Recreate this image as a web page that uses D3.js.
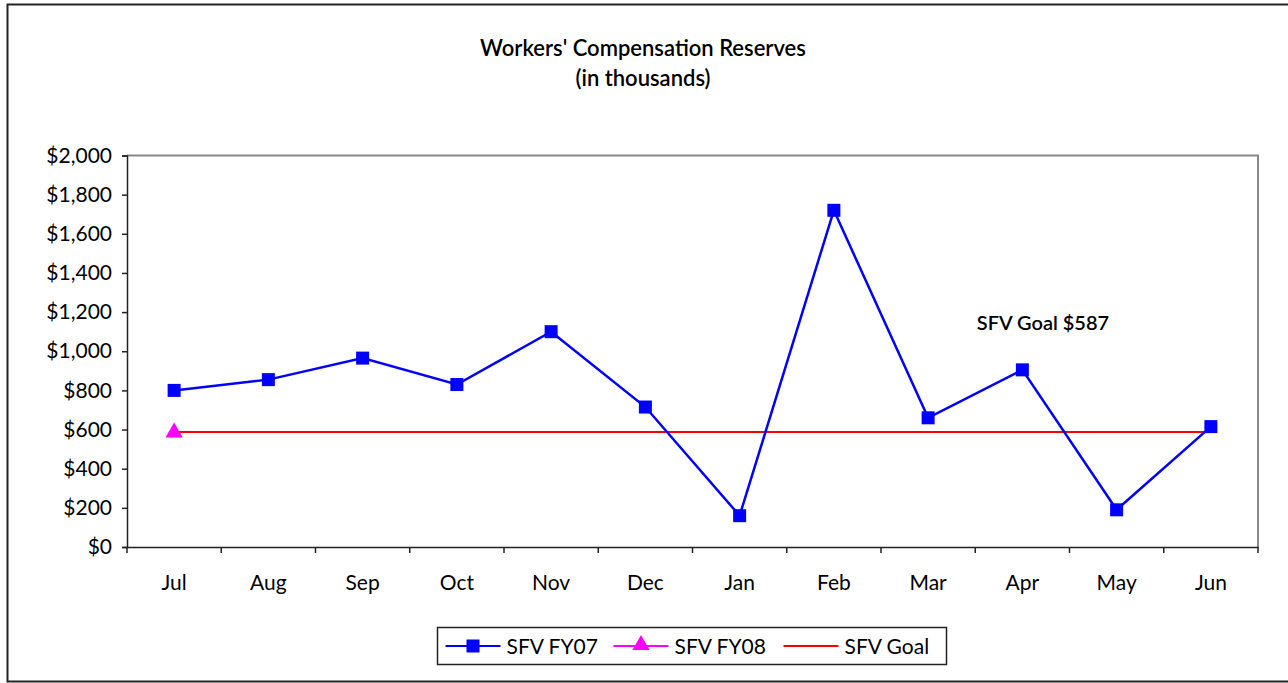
<!DOCTYPE html>
<html>
<head>
<meta charset="utf-8">
<script src="https://d3js.org/d3.v7.min.js"></script>
<style>
  body { margin: 0; background: #fff; }
  svg { display: block; font-family: Lato, "Open Sans", sans-serif; }
  .axis text { fill: #000; font-size: 21px; font-family: Lato, "Open Sans", sans-serif; }
  .axis path, .axis line { stroke: #222; stroke-width: 1.5; }
</style>
</head>
<body>
<svg id="chart"></svg>
<script>
  var months = ["Jul", "Aug", "Sep", "Oct", "Nov", "Dec", "Jan", "Feb", "Mar", "Apr", "May", "Jun"];
  var fy07 = [800, 855, 965, 830, 1100, 715, 160, 1720, 660, 905, 190, 615];
  var fy08 = [580];
  var goal = 587;
  var yTicks = [0, 200, 400, 600, 800, 1000, 1200, 1400, 1600, 1800, 2000];

  var W = 1288, H = 683;
  var margin = {top: 155.5, right: 30, bottom: 136, left: 127};
  var width = 1258 - margin.left,
      height = 547 - margin.top;

  var svg = d3.select("#chart").attr("width", W).attr("height", H);

  // outer frame
  svg.append("rect")
    .attr("x", 7.5).attr("y", 4.5)
    .attr("width", 1300).attr("height", 677)
    .attr("fill", "none").attr("stroke", "#222").attr("stroke-width", 2);

  var g = svg.append("g").attr("transform", "translate(" + margin.left + "," + margin.top + ")");

  var x = d3.scaleBand().domain(months).range([0, width]);
  var y = d3.scaleLinear().domain([0, 2000]).range([height, 0]);

  // plot frame (top and right in grey)
  g.append("path")
    .attr("d", "M0,0H" + width + "V" + height)
    .attr("fill", "none").attr("stroke", "#888").attr("stroke-width", 2);

  g.append("g").attr("class", "axis")
    .call(d3.axisLeft(y).tickValues(yTicks).tickSize(5).tickPadding(10)
      .tickFormat(function(d) { return "$" + d3.format(",")(d); }))
    .attr("font-family", null).attr("font-size", null);

  var xAxis = g.append("g").attr("class", "axis")
    .attr("transform", "translate(0," + height + ")")
    .call(d3.axisBottom(x).tickSize(0).tickPadding(28))
    .attr("font-family", null).attr("font-size", null);
  // ticks sit between the categories
  xAxis.selectAll(".bt")
    .data(d3.range(months.length + 1))
    .enter().append("line")
    .attr("x1", function(i) { return i * x.bandwidth(); })
    .attr("x2", function(i) { return i * x.bandwidth(); })
    .attr("y1", 0).attr("y2", 6);

  var cx = function(d, i) { return x(months[i]) + x.bandwidth() / 2; };

  // goal line
  g.append("line")
    .attr("x1", cx(null, 0)).attr("x2", cx(null, months.length - 1))
    .attr("y1", y(goal)).attr("y2", y(goal))
    .attr("stroke", "#ff0000").attr("stroke-width", 2);

  var line = d3.line().x(cx).y(function(d) { return y(d); });

  g.append("path").datum(fy07)
    .attr("d", line)
    .attr("fill", "none").attr("stroke", "#0000ff").attr("stroke-width", 2.5);

  g.selectAll(".sq").data(fy07).enter().append("rect")
    .attr("x", function(d, i) { return cx(d, i) - 6.5; })
    .attr("y", function(d) { return y(d) - 6.5; })
    .attr("width", 13).attr("height", 13)
    .attr("fill", "#0000ff");

  var tri = d3.symbol().type(d3.symbolTriangle).size(130);
  g.selectAll(".tri").data(fy08).enter().append("path")
    .attr("d", tri)
    .attr("transform", function(d, i) { return "translate(" + cx(d, i) + "," + (y(d) - 1) + ")"; })
    .attr("fill", "#ff00ff");

  // title
  svg.append("text").attr("x", 643).attr("y", 56).attr("text-anchor", "middle")
    .attr("font-size", 22).attr("font-weight", 600).text("Workers' Compensation Reserves");
  svg.append("text").attr("x", 643).attr("y", 86).attr("text-anchor", "middle")
    .attr("font-size", 22).attr("font-weight", 600).text("(in thousands)");

  // annotation
  svg.append("text").attr("x", 1043).attr("y", 330).attr("text-anchor", "middle")
    .attr("font-size", 20).attr("font-weight", 600).text("SFV Goal $587");

  // legend
  var leg = svg.append("g").attr("transform", "translate(437.5,627.5)");
  leg.append("rect").attr("width", 509).attr("height", 37)
    .attr("fill", "#fff").attr("stroke", "#222").attr("stroke-width", 1.5);
  var items = [
    {name: "SFV FY07", color: "#0000ff", mark: "sq", x: 8},
    {name: "SFV FY08", color: "#ff00ff", mark: "tri", x: 176},
    {name: "SFV Goal", color: "#ff0000", mark: null, x: 346}
  ];
  items.forEach(function(it) {
    var li = leg.append("g").attr("transform", "translate(" + it.x + ",18.5)");
    li.append("line").attr("x1", 0).attr("x2", 55).attr("stroke", it.color).attr("stroke-width", 2);
    if (it.mark === "sq") li.append("rect").attr("x", 21).attr("y", -6.5).attr("width", 13).attr("height", 13).attr("fill", it.color);
    if (it.mark === "tri") li.append("path").attr("d", tri).attr("transform", "translate(27.5,-1)").attr("fill", it.color);
    li.append("text").attr("x", 61).attr("y", 7.5).attr("font-size", 21).text(it.name);
  });
</script>
</body>
</html>
